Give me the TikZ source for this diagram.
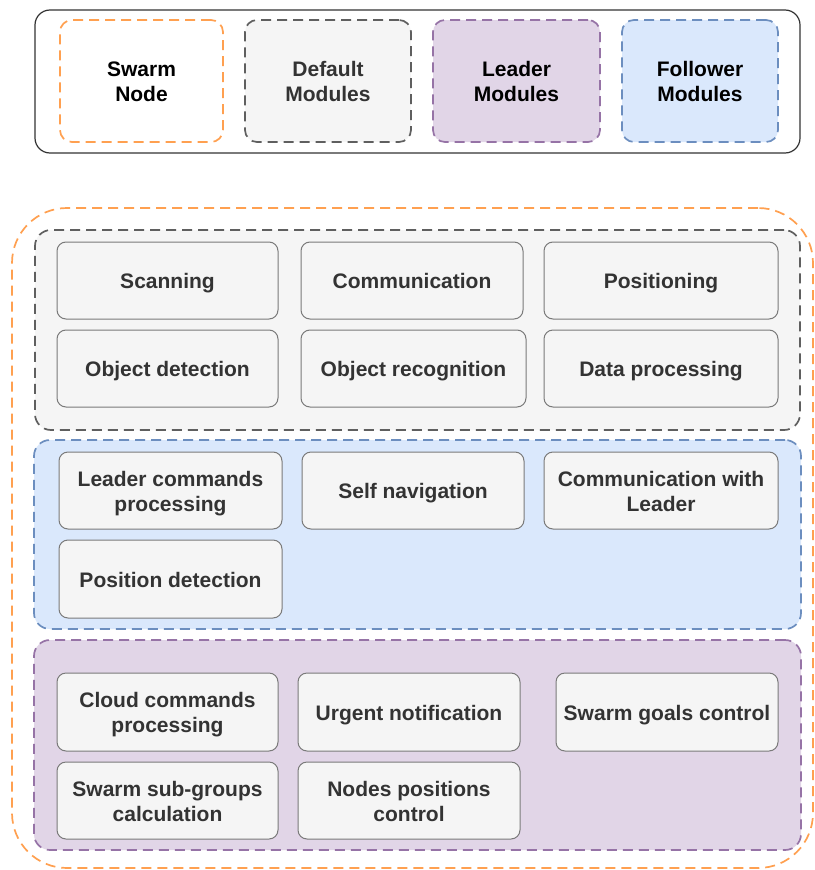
\documentclass[tikz,border=0pt]{standalone}
\usepackage{fontspec}
\setmainfont{Liberation Sans}
\definecolor{orangeS}{HTML}{FFA050}
\definecolor{grayS}{HTML}{5F5F5F}
\definecolor{grayF}{HTML}{F5F5F5}
\definecolor{blueS}{HTML}{6C8EBF}
\definecolor{blueF}{HTML}{DAE8FC}
\definecolor{purpS}{HTML}{9673A6}
\definecolor{purpF}{HTML}{E1D5E7}
\definecolor{txt}{HTML}{333333}
\definecolor{modS}{HTML}{7A7A7A}
\tikzset{
  base/.style={rectangle, inner sep=0pt, outer sep=0pt, align=center,
    text height=18pt, text depth=2pt,
    font=\fontsize{21}{25}\selectfont\bfseries},
  twoline/.style={text height=43pt, text depth=2pt},
  dashline/.style={dash pattern=on 10pt off 6pt, line width=1.7pt},
  legendbox/.style={base, twoline, dashline, rounded corners=12pt, minimum height=122pt},
  grp/.style={base, dashline, rounded corners=16pt},
  modbox/.style={base, draw=modS, fill=grayF, line width=1pt, rounded corners=9pt, text=txt}
}
\begin{document}
\begin{tikzpicture}[x=1pt,y=-1pt]
\useasboundingbox (0,0) rectangle (814,870);
% legend
\node[base, draw=black!80, line width=1.2pt, rounded corners=15pt, minimum width=765pt, minimum height=143pt] (legend) at (417.5,81.5) {};
\node[legendbox, draw=orangeS, fill=white, minimum width=163pt] (lswarm) at (141.5,81) {Swarm\\Node};
\node[legendbox, draw=grayS, fill=grayF, text=txt, minimum width=166pt] (ldefault) at (328,81) {Default\\Modules};
\node[legendbox, draw=purpS, fill=purpF, minimum width=167pt] (lleader) at (516.5,81) {Leader\\Modules};
\node[legendbox, draw=blueS, fill=blueF, minimum width=156pt] (lfollower) at (700,81) {Follower\\Modules};
% swarm node container
\node[base, dashline, draw=orangeS, fill=white, rounded corners=55pt, minimum width=801pt, minimum height=660pt] (swarm) at (412.5,538) {};
% default modules
\node[grp, draw=grayS, fill=grayF, minimum width=765pt, minimum height=200pt] (default) at (417.5,330) {};
\node[modbox, minimum width=221pt, minimum height=77pt] (scan) at (167.5,280.5) {Scanning};
\node[modbox, minimum width=222pt, minimum height=77pt] (comm) at (412,280.5) {Communication};
\node[modbox, minimum width=234pt, minimum height=77pt] (pos) at (661,280.5) {Positioning};
\node[modbox, minimum width=221pt, minimum height=77pt] (objdet) at (167.5,368.5) {Object detection};
\node[modbox, minimum width=225pt, minimum height=77pt] (objrec) at (413.5,368.5) {Object recognition};
\node[modbox, minimum width=234pt, minimum height=77pt] (data) at (661,368.5) {Data processing};
% follower modules
\node[grp, draw=blueS, fill=blueF, minimum width=767pt, minimum height=189pt] (follower) at (417.5,534.5) {};
\node[modbox, twoline, minimum width=223pt, minimum height=77pt] (lcp) at (170.5,490.5) {Leader commands\\processing};
\node[modbox, minimum width=222pt, minimum height=77pt] (selfnav) at (413,490.5) {Self navigation};
\node[modbox, twoline, minimum width=234pt, minimum height=77pt] (cwl) at (661,490.5) {Communication with\\Leader};
\node[modbox, minimum width=223pt, minimum height=78pt] (posdet) at (170.5,579) {Position detection};
% leader modules
\node[grp, draw=purpS, fill=purpF, minimum width=767pt, minimum height=210pt] (leader) at (417.5,745) {};
\node[modbox, twoline, minimum width=221pt, minimum height=78pt] (ccp) at (167.5,712) {Cloud commands\\processing};
\node[modbox, minimum width=222pt, minimum height=78pt] (urgent) at (409,712) {Urgent notification};
\node[modbox, minimum width=222pt, minimum height=78pt] (goals) at (667,712) {Swarm goals control};
\node[modbox, twoline, minimum width=221pt, minimum height=77pt] (subgr) at (167.5,800.5) {Swarm sub-groups\\calculation};
\node[modbox, twoline, minimum width=222pt, minimum height=77pt] (npc) at (409,800.5) {Nodes positions\\control};
\end{tikzpicture}
\end{document}
